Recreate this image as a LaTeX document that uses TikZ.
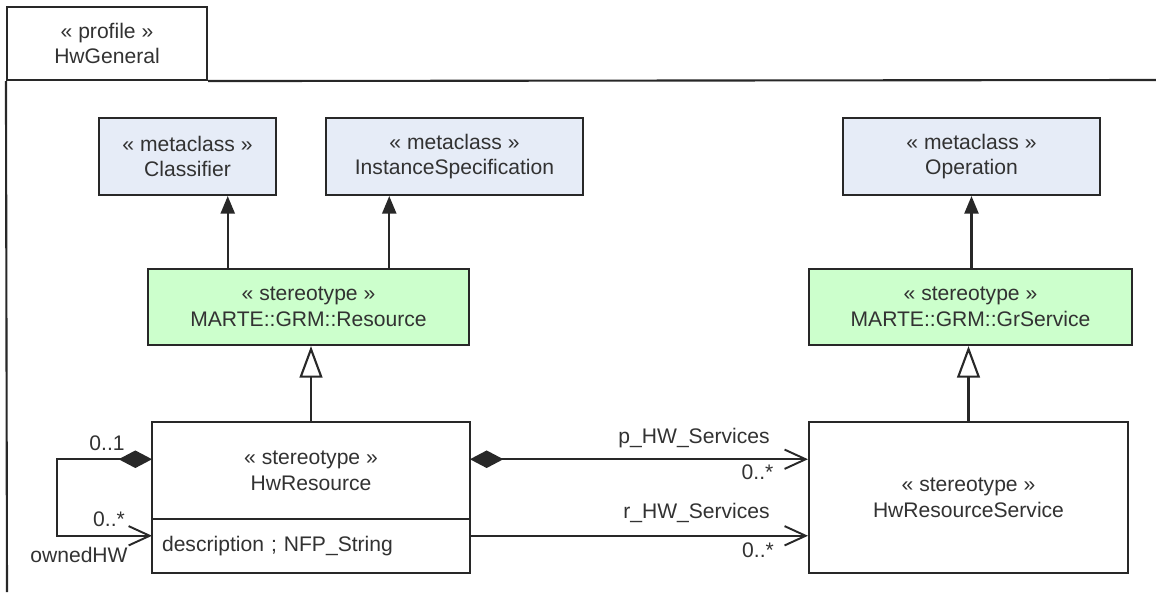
\documentclass[tikz,border=0pt]{standalone}
\usepackage{fontspec}
\setmainfont{Liberation Sans}
\usetikzlibrary{arrows.meta,positioning,calc}
\definecolor{metablue}{RGB}{230,236,247}
\definecolor{stereogreen}{RGB}{204,255,204}
\definecolor{umltext}{RGB}{50,50,50}
\definecolor{umlline}{RGB}{40,40,40}

\begin{document}
\begin{tikzpicture}[
  x=0.02cm, y=-0.02cm,
  font=\fontsize{12}{14.6}\selectfont,
  base/.style={rectangle,draw=umlline,line width=1.2pt,align=center,inner sep=0pt,text=umltext},
  meta/.style={base,fill=metablue,minimum height=1.54cm},
  stereo/.style={base,fill=stereogreen,minimum height=1.52cm},
  hwbox/.style={base,fill=white,minimum width=6.36cm},
  lbl/.style={inner sep=0pt,anchor=base,text=umltext},
  frame/.style={draw=umlline,line width=1.2pt},
  ext/.style={-{Triangle[length=10pt,width=8pt]},line width=1.2pt,draw=umlline},
  gen/.style={-{Triangle[open,length=18pt,width=13pt,fill=white]},line width=1.2pt,draw=umlline},
  assoc/.style={-{Straight Barb[length=12pt,width=11pt,line width=1.1pt]},line width=1.2pt,draw=umlline},
  comp/.style={{Diamond[length=19pt,width=10pt]}-{Straight Barb[length=12pt,width=11pt,line width=1.1pt]},line width=1.2pt,draw=umlline}
]
\useasboundingbox (0,0) rectangle (1156,592);

% profile frame
\node[base,minimum width=4cm,minimum height=1.46cm] (tab) at (107,43.5) {« profile »\\HwGeneral};
\draw[frame] (tab.south west) -- (7,592);
\draw[frame] (tab.south east) -- (1156,80);

% metaclasses
\node[meta,minimum width=3.54cm] (classifier) at (187.5,156.5) {« metaclass »\\Classifier};
\node[meta,minimum width=5.14cm] (instspec) at (454.5,156.5) {« metaclass »\\InstanceSpecification};
\node[meta,minimum width=5.14cm] (operation) at (971.5,156.5) {« metaclass »\\Operation};

% MARTE stereotypes
\node[stereo,minimum width=6.42cm] (grmres) at (308.5,307) {« stereotype »\\MARTE::GRM::Resource};
\node[stereo,minimum width=6.46cm] (grserv) at (970.5,307) {« stereotype »\\MARTE::GRM::GrService};

% HW stereotypes
\node[hwbox,minimum height=1.94cm,outer sep=0pt] (hwres) at (311,470.5) {« stereotype »\\HwResource};
\node[hwbox,minimum height=1.08cm,outer sep=0pt,below=0pt of hwres,align=left,inner xsep=5.7pt,text width=6.36cm-11.4pt] (hwattr) {description ; NFP\_String};
\node[hwbox,minimum width=6.38cm,minimum height=3.02cm] (hwsvc) at (968.5,497.5) {« stereotype »\\HwResourceService};

% extensions
\coordinate (ext1) at ($(grmres.north west)!0.25!(grmres.north east)$);
\coordinate (ext2) at ($(grmres.north west)!0.75!(grmres.north east)$);
\draw[ext] (ext1) -- (ext1 |- classifier.south);
\draw[ext] (ext2) -- (ext2 |- instspec.south);
\draw[ext] (grserv.north -| operation.south) -- (operation.south);

% generalizations
\draw[gen] (hwres.north) -- (hwres.north |- grmres.south);
\draw[gen] (hwsvc.north) -- (hwsvc.north |- grserv.south);

% associations
\coordinate (svcp) at ($(hwsvc.north west)!0.25!(hwsvc.south west)$);
\coordinate (svcr) at ($(hwsvc.north west)!0.75!(hwsvc.south west)$);
\draw[comp] (hwres.east |- svcp) -- (svcp);
\draw[assoc] (hwattr.east |- svcr) -- (svcr);
\draw[comp] (hwres.west |- svcp) -- ++(-95,0) |- (hwattr.west |- svcr);

% ends
\node[lbl] (ownone) at (107,450) {0..1};
\node[lbl] (ownmany) at (109,526) {0..*};
\node[lbl] (ownname) at (79,562) {ownedHW};
\node[lbl] (pname) at (694,443) {p\_HW\_Services};
\node[lbl] (pmany) at (757.5,479) {0..*};
\node[lbl] (rname) at (696.5,518) {r\_HW\_Services};
\node[lbl] (rmany) at (758,557) {0..*};
\end{tikzpicture}
\end{document}
